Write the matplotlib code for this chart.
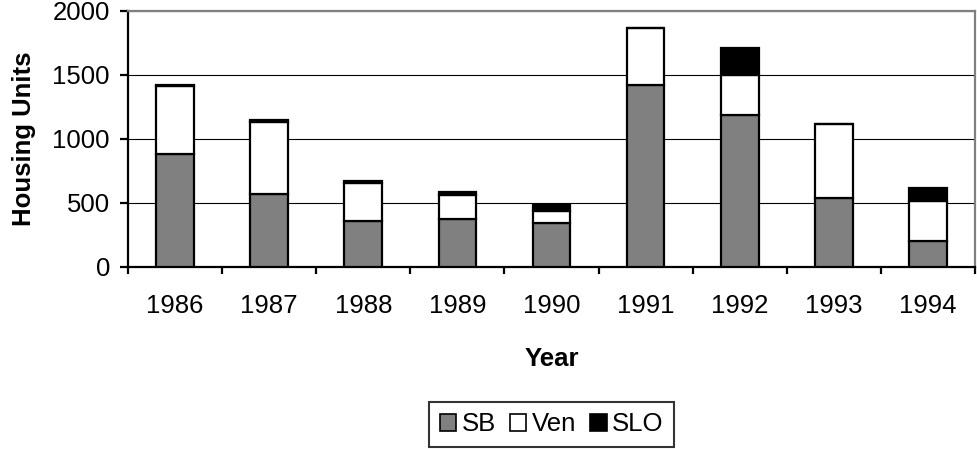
import matplotlib
matplotlib.use("Agg")
import matplotlib.pyplot as plt
import numpy as np

years = ["1986", "1987", "1988", "1989", "1990", "1991", "1992", "1993", "1994"]
sb = [880, 570, 357, 372, 340, 1420, 1190, 540, 200]
ven = [535, 565, 297, 190, 100, 450, 307, 575, 316]
slo = [10, 15, 15, 26, 47, 0, 213, 0, 100]

plt.rcParams['font.family'] = ['Liberation Sans', 'DejaVu Sans']

fig = plt.figure(figsize=(9.77, 4.49), dpi=100)
ax = fig.add_axes([128/977, 1 - 267/449, (975-128)/977, (267-11)/449])

x = np.arange(len(years))
w = 0.4
sb_a = np.array(sb); ven_a = np.array(ven); slo_a = np.array(slo)
ax.bar(x, sb_a, w, color='#808080', edgecolor='black', linewidth=1.6, label='SB', zorder=3)
ax.bar(x, ven_a, w, bottom=sb_a, color='white', edgecolor='black', linewidth=1.6, label='Ven', zorder=3)
ax.bar(x, slo_a, w, bottom=sb_a + ven_a, color='black', edgecolor='black', linewidth=1.6, label='SLO', zorder=3)

ax.set_xlim(-0.5, len(years) - 0.5)
ax.set_ylim(0, 2000)
ax.set_yticks([0, 500, 1000, 1500, 2000])
ax.yaxis.grid(True, color='black', linewidth=0.8, zorder=0)
ax.set_axisbelow(True)

ax.set_xticks(x)
ax.set_xticklabels(years)
ax.set_xticks(np.arange(len(years) + 1) - 0.5, minor=True)
ax.tick_params(axis='x', which='major', length=0, pad=19.5, labelsize=18.5)
ax.tick_params(axis='x', which='minor', length=5, width=1.6, direction='out')
ax.tick_params(axis='y', length=6, width=1.6, direction='out', pad=7, labelsize=18.5)

for s in ['left', 'bottom']:
    ax.spines[s].set_linewidth(1.6)
    ax.spines[s].set_color('black')
for s in ['top', 'right']:
    ax.spines[s].set_linewidth(1.6)
    ax.spines[s].set_color('#808080')

ax.set_ylabel('Housing Units', fontsize=18.5, fontweight='bold', labelpad=12)
ax.set_xlabel('Year', fontsize=18.5, fontweight='bold', labelpad=20.5)

leg = fig.legend(loc='lower center', bbox_to_anchor=(551.5/977, 0.004), ncol=3, fontsize=18.5,
                 frameon=True, fancybox=False, shadow=False, handlelength=0.65, handleheight=0.65,
                 handletextpad=0.2, columnspacing=0.55, borderpad=0.42, borderaxespad=0)
leg.get_frame().set_edgecolor('black')
leg.get_frame().set_linewidth(1.5)
for h in leg.legend_handles:
    h.set_linewidth(1.2)

fig.savefig('out.png', dpi=100)
